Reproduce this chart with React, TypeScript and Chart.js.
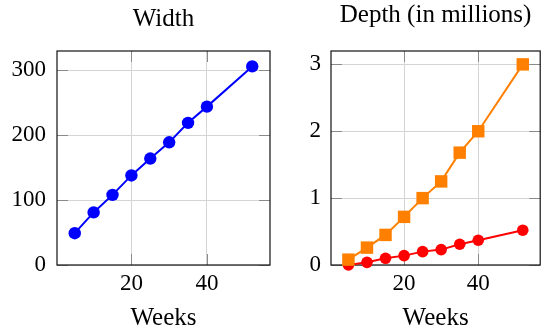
import React, { useEffect, useRef } from 'react';
import { Chart, registerables } from 'chart.js';

Chart.register(...registerables);

const weeks = [5, 10, 15, 20, 25, 30, 35, 40, 52];
const widthValues = [49, 81, 108, 138, 164, 189, 219, 244, 306];
const depthOrange = [0.08, 0.26, 0.45, 0.72, 1.0, 1.25, 1.68, 2.0, 3.0];
const depthRed = [0.0, 0.04, 0.1, 0.14, 0.2, 0.23, 0.31, 0.37, 0.52];
const widthTicks = [0, 100, 200, 300];
const depthTicks = [0, 1, 2, 3];
const weekTicks = [20, 40];
const titleWidth = 'Width';
const titleDepth = 'Depth (in millions)';
const xLabel = 'Weeks';

const FONT = "'Liberation Serif', 'Times New Roman', serif";

const decor = {
  id: 'decor',
  beforeDatasetsDraw(chart: any, _args: any, opts: any) {
    const { ctx, chartArea: a, scales } = chart;
    ctx.save();
    ctx.strokeStyle = '#8a8a8a';
    ctx.lineWidth = 1;
    const L = 11;
    for (const v of opts.yTicks) {
      const y = Math.round(scales.y.getPixelForValue(v)) + 0.5;
      ctx.beginPath();
      ctx.moveTo(a.left, y); ctx.lineTo(a.left + L, y);
      ctx.moveTo(a.right - L, y); ctx.lineTo(a.right, y);
      ctx.stroke();
    }
    for (const v of opts.xTicks) {
      const x = Math.round(scales.x.getPixelForValue(v)) + 0.5;
      ctx.beginPath();
      ctx.moveTo(x, a.bottom); ctx.lineTo(x, a.bottom - L);
      ctx.moveTo(x, a.top); ctx.lineTo(x, a.top + L);
      ctx.stroke();
    }
    ctx.strokeStyle = '#111';
    ctx.lineWidth = 1.2;
    ctx.strokeRect(a.left, a.top, a.right - a.left, a.bottom - a.top);
    ctx.restore();
  },
  afterDraw(chart: any, _args: any, opts: any) {
    const { ctx, chartArea: a } = chart;
    const cx = (a.left + a.right) / 2;
    ctx.save();
    ctx.fillStyle = '#000';
    ctx.textAlign = 'center';
    ctx.textBaseline = 'alphabetic';
    ctx.font = `25px ${FONT}`;
    ctx.fillText(opts.title, cx, opts.titleBaseline);
    ctx.fillText(opts.xTitle, cx, 325);
    ctx.restore();
  },
};

type Cfg = {
  width: number;
  yAxisWidth: number;
  rightPad: number;
  yMax: number;
  yTicks: number[];
  tickPad: number;
  title: string;
  titleBaseline: number;
  datasets: any[];
};

function makeConfig(c: Cfg): any {
  return {
    type: 'line',
    data: { datasets: c.datasets },
    plugins: [decor],
    options: {
      responsive: false,
      animation: false,
      devicePixelRatio: 1,
      layout: { padding: { top: 51, right: c.rightPad, left: 0, bottom: 0 } },
      plugins: {
        legend: { display: false },
        tooltip: { enabled: false },
        title: { display: false },
        decor: { yTicks: c.yTicks, xTicks: weekTicks, title: c.title, titleBaseline: c.titleBaseline, xTitle: xLabel },
      },
      scales: {
        x: {
          type: 'linear',
          min: 0.3,
          max: 56.7,
          afterBuildTicks: (s: any) => { s.ticks = weekTicks.map((v) => ({ value: v })); },
          afterFit: (s: any) => { s.height = 68; },
          grid: { color: '#d4d4d4', drawTicks: false, lineWidth: 1 },
          border: { display: false },
          ticks: { color: '#000', font: { family: FONT, size: 23 }, padding: 5, maxRotation: 0 },
        },
        y: {
          type: 'linear',
          min: 0,
          max: c.yMax,
          afterBuildTicks: (s: any) => { s.ticks = c.yTicks.map((v) => ({ value: v })); },
          afterFit: (s: any) => { s.width = c.yAxisWidth; },
          grid: { color: '#d4d4d4', drawTicks: false, lineWidth: 1 },
          border: { display: false },
          ticks: { color: '#000', font: { family: FONT, size: 23 }, padding: c.tickPad },
        },
      },
    },
  };
}

function pts(ys: number[]) {
  return weeks.map((x, i) => ({ x, y: ys[i] }));
}

function ChartCanvas({ cfg, left, width }: { cfg: Cfg; left: number; width: number }) {
  const ref = useRef<HTMLCanvasElement>(null);
  useEffect(() => {
    const chart = new Chart(ref.current as HTMLCanvasElement, makeConfig(cfg));
    return () => chart.destroy();
  }, []);
  return (
    <canvas
      ref={ref}
      width={width}
      height={333}
      style={{ position: 'absolute', left, top: 0, width, height: 333 }}
    />
  );
}

export default function App() {
  const left: Cfg = {
    width: 280,
    yAxisWidth: 57,
    rightPad: 10,
    yMax: 329.7,
    yTicks: widthTicks,
    tickPad: 11,
    title: titleWidth,
    titleBaseline: 26,
    datasets: [
      {
        data: pts(widthValues),
        borderColor: '#0000ff',
        backgroundColor: '#0000ff',
        borderWidth: 2,
        pointStyle: 'circle',
        pointRadius: 6.2,
        pointBorderWidth: 0,
        clip: false,
      },
    ],
  };
  const right: Cfg = {
    width: 269,
    yAxisWidth: 51,
    rightPad: 5,
    yMax: 3.2,
    yTicks: depthTicks,
    tickPad: 10,
    title: titleDepth,
    titleBaseline: 22,
    datasets: [
      {
        data: pts(depthOrange),
        borderColor: '#ff8000',
        backgroundColor: '#ff8000',
        borderWidth: 2,
        pointStyle: 'rect',
        pointRadius: 8.8,
        pointBorderWidth: 0,
        clip: false,
      },
      {
        data: pts(depthRed),
        borderColor: '#ff0000',
        backgroundColor: '#ff0000',
        borderWidth: 2,
        pointStyle: 'circle',
        pointRadius: 5.8,
        pointBorderWidth: 0,
        clip: false,
      },
    ],
  };
  return (
    <div style={{ position: 'fixed', left: 0, top: 0, width: 549, height: 333, background: '#fff', overflow: 'hidden' }}>
      <ChartCanvas cfg={left} left={0} width={280} />
      <ChartCanvas cfg={right} left={280} width={269} />
    </div>
  );
}
